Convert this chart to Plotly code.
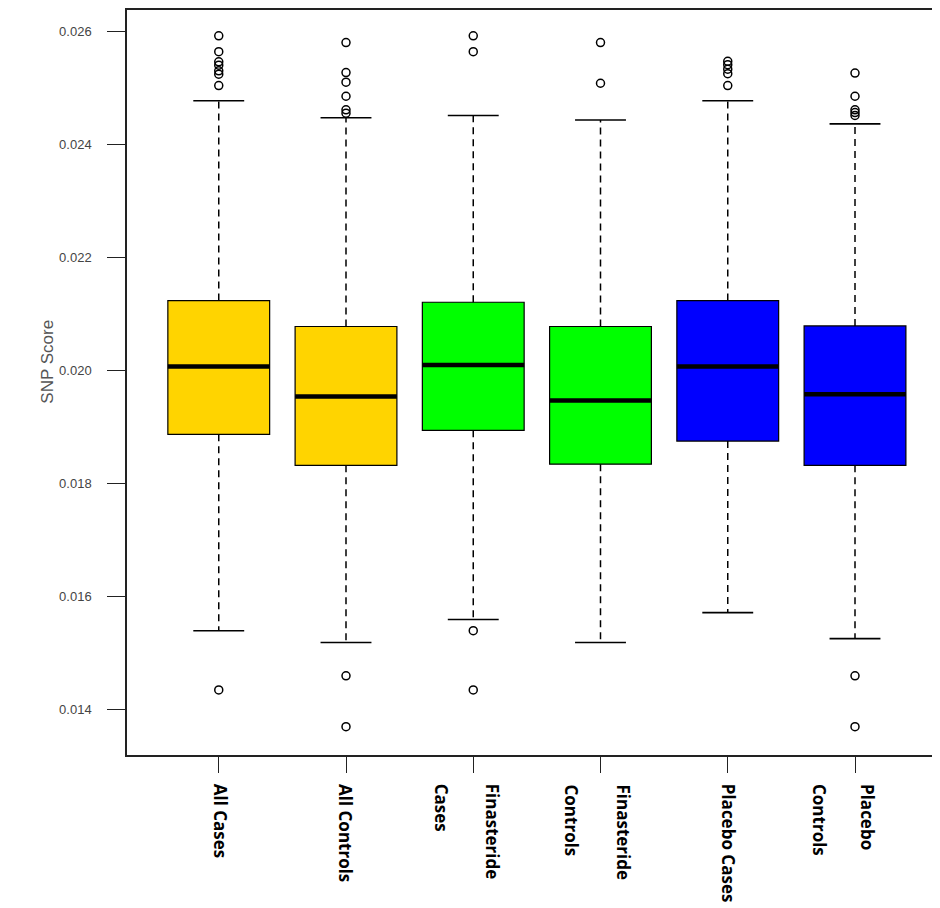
import plotly.graph_objects as go

# ---- data ----
groups = ["All Cases", "All Controls", "Finasteride Cases",
          "Finasteride Controls", "Placebo Cases", "Placebo Controls"]
label_lines = [["All Cases"], ["All Controls"], ["Cases", "Finasteride"],
               ["Controls", "Finasteride"], ["Placebo Cases"], ["Controls", "Placebo"]]
positions = [1, 2, 3, 4, 5, 6]
colors = ["#FFD400", "#FFD400", "#00FF00", "#00FF00", "#0000FF", "#0000FF"]

q1 = [0.01887, 0.01832, 0.01894, 0.01834, 0.01875, 0.01832]
median = [0.02007, 0.01954, 0.02010, 0.01947, 0.02007, 0.01958]
q3 = [0.02124, 0.02078, 0.02121, 0.02078, 0.02124, 0.02079]
lower_whisker = [0.01539, 0.01518, 0.01559, 0.01518, 0.01571, 0.01525]
upper_whisker = [0.02478, 0.02448, 0.02452, 0.02444, 0.02478, 0.02437]

outliers = [
    [0.02593, 0.02565, 0.02547, 0.02541, 0.02531, 0.02525, 0.02505, 0.01434],
    [0.02581, 0.02528, 0.02511, 0.02486, 0.02462, 0.02456, 0.01459, 0.01369],
    [0.02593, 0.02565, 0.01539, 0.01434],
    [0.02581, 0.02509],
    [0.02548, 0.02542, 0.02534, 0.02526, 0.02505],
    [0.02527, 0.02486, 0.02462, 0.02457, 0.02452, 0.01459, 0.01369],
]

yticks = [0.014, 0.016, 0.018, 0.020, 0.022, 0.024, 0.026]
ytick_text = ["0.014", "0.016", "0.018", "0.020", "0.022", "0.024", "0.026"]

# label line offsets (px) relative to tick, per group
label_offsets = [[2], [0], [-31, 20], [-29, 23], [1], [-35, 13]]

BOX_HALF = 0.4
CAP_HALF = 0.2

fig = go.Figure()

for i, p in enumerate(positions):
    fig.add_trace(go.Box(
        x=[p], q1=[q1[i]], median=[median[i]], q3=[q3[i]],
        lowerfence=[q1[i]], upperfence=[q3[i]],
        width=2 * BOX_HALF, fillcolor=colors[i],
        line=dict(color="black", width=1.2),
        boxpoints=False, whiskerwidth=0, hoverinfo="skip", showlegend=False,
    ))

# dashed whiskers
wx, wy = [], []
for i, p in enumerate(positions):
    wx += [p, p, None, p, p, None]
    wy += [q3[i], upper_whisker[i], None, q1[i], lower_whisker[i], None]
fig.add_trace(go.Scatter(x=wx, y=wy, mode="lines",
                         line=dict(color="black", width=1.5, dash="7px,5px"),
                         hoverinfo="skip", showlegend=False))

# whisker caps
cx, cy = [], []
for i, p in enumerate(positions):
    cx += [p - CAP_HALF, p + CAP_HALF, None, p - CAP_HALF, p + CAP_HALF, None]
    cy += [upper_whisker[i], upper_whisker[i], None, lower_whisker[i], lower_whisker[i], None]
fig.add_trace(go.Scatter(x=cx, y=cy, mode="lines",
                         line=dict(color="black", width=1.6),
                         hoverinfo="skip", showlegend=False))

# medians
mx, my = [], []
for i, p in enumerate(positions):
    mx += [p - BOX_HALF, p + BOX_HALF, None]
    my += [median[i], median[i], None]
fig.add_trace(go.Scatter(x=mx, y=my, mode="lines",
                         line=dict(color="black", width=4.5),
                         hoverinfo="skip", showlegend=False))

# outliers
ox, oy = [], []
for i, p in enumerate(positions):
    ox += [p] * len(outliers[i])
    oy += outliers[i]
fig.add_trace(go.Scatter(x=ox, y=oy, mode="markers",
                         marker=dict(symbol="circle-open", size=8,
                                     color="black", line=dict(width=1.5)),
                         hoverinfo="skip", showlegend=False))

annotations = []
for i, p in enumerate(positions):
    for line, off in zip(label_lines[i], label_offsets[i]):
        annotations.append(dict(
            x=p, xref="x", y=0, yref="paper", yshift=-27, xshift=off,
            text=f"<b>{line}</b>", textangle=90, showarrow=False,
            xanchor="center", yanchor="top",
            font=dict(family="Open Sans", size=17, color="black"),
        ))

annotations.append(dict(
    x=0, xref="paper", xshift=-79, y=0.528, yref="paper",
    text="SNP Score", textangle=-90, showarrow=False,
    xanchor="center", yanchor="middle",
    font=dict(family="Liberation Sans", size=17, color="#555555"),
))

fig.update_layout(
    width=932, height=900,
    margin=dict(l=119, r=0, t=0, b=153, pad=0),
    paper_bgcolor="white", plot_bgcolor="white",
    annotations=annotations,
    xaxis=dict(
        range=[0.279, 6.668], tickvals=positions, ticktext=[""] * 6,
        showticklabels=False, ticks="outside", ticklen=16, tickwidth=1.4,
        tickcolor="#222", showline=True, linecolor="#222", linewidth=1.5,
        mirror=True, showgrid=False, zeroline=False,
    ),
    yaxis=dict(
        range=[0.013188, 0.026388], tickvals=yticks, ticktext=ytick_text,
        ticks="outside", ticklen=18, tickwidth=1.4, tickcolor="#222",
        showline=True, linecolor="#222", linewidth=1.5,
        showgrid=False, zeroline=False, ticklabelstandoff=13,
        tickfont=dict(family="Liberation Sans", size=13, color="#444444"),
    ),
)

fig.write_html("out.html")
